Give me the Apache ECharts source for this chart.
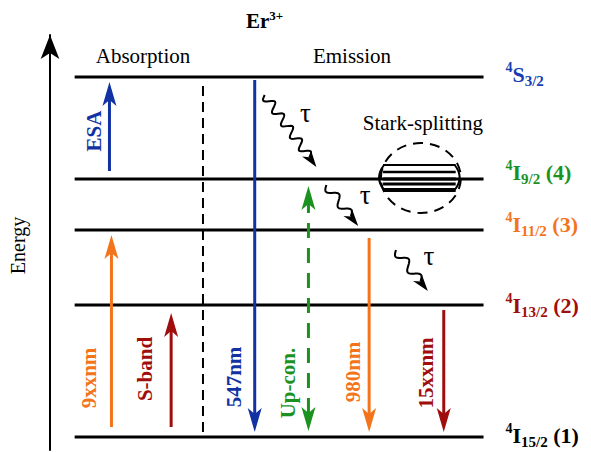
<!DOCTYPE html>
<html><head><meta charset="utf-8">
<script src="https://cdn.jsdelivr.net/npm/echarts@6/dist/echarts.min.js"></script>
<style>html,body{margin:0;padding:0;background:#fff}#c{width:591px;height:452px}</style>
</head><body><div id="c"></div>
<script>
// ---------------- data (energies in arbitrary units) ----------------
const levelTerms   = ['I', 'I', 'I', 'I', 'S'];
const levelJ       = ['15/2', '13/2', '11/2', '9/2', '3/2'];
const levelIndex   = ['(1)', '(2)', '(3)', '(4)', ''];
const levelEnergy  = [15, 147, 222, 273, 375];

const transitionNames = ['ESA', '9xxnm', 'S-band', '547nm', 'Up-con.', '980nm', '15xxnm'];
const transitionStart = [281, 25, 25, 372, 21, 214, 142];
const transitionEnd   = [370, 217, 139, 20, 266, 20, 20];

const relaxStart = [357, 267, 202];
const relaxEnd   = [285, 226, 161];

const starkOffsets = [14, 7, 0, -5, -11];

// ---------------- layout & style ----------------
const F = '"Liberation Serif","Times New Roman",serif';
const BLUE = '#1232a4', ORANGE = '#f3741a', RED = '#a00d0d', GREEN = '#1b921f', BLACK = '#000';
const L = {
  levelX: [72, 483],
  labelX: 505,
  levelLabelDE: [2, 0, 6, 7, 3],
  levelColor: [BLACK, RED, ORANGE, GREEN, '#1a3cb0'],
  transX: [107, 109, 169, 253, 307, 368, 443],
  transColor: [BLUE, ORANGE, RED, BLUE, GREEN, ORANGE, RED],
  transDashed: [false, false, false, false, true, false, false],
  transLabelDx: [-15, -22, -26, -21, -20, -16, -18],
  transLabelE: [321, 74, 83, 75, 69, 80, 79],
  relaxX: [[263, 315], [325, 357], [395, 427]],
  tauPos: [[304, 339], [364, 257], [428, 196]],
  divider: { x: 201, e0: 366, e1: 15 },
  stark: { cx: 420, rx: 40, ry: 35, x0: 382, x1: 455, widths: [2, 2.5, 3, 3, 4] }
};

function headPts(tip, ux, uy, len, wid, notch) {
  const bx = tip[0] - ux * len, by = tip[1] - uy * len;
  const px = -uy, py = ux;
  return [
    [tip[0], tip[1]],
    [bx + px * wid / 2, by + py * wid / 2],
    [tip[0] - ux * (len - notch), tip[1] - uy * (len - notch)],
    [bx - px * wid / 2, by - py * wid / 2]
  ];
}

function richFor(col) {
  return {
    sup: { fontSize: 14, fontWeight: 'bold', fontFamily: F, fill: col, lineHeight: 14, verticalAlign: 'top' },
    m:   { fontSize: 22, fontWeight: 'bold', fontFamily: F, fill: col, lineHeight: 28 },
    sub: { fontSize: 15, fontWeight: 'bold', fontFamily: F, fill: col, lineHeight: 15, verticalAlign: 'bottom' }
  };
}

const chart = echarts.init(document.getElementById('c'), null, { renderer: 'svg', width: 591, height: 452 });

const option = {
  animation: false,
  backgroundColor: '#fff',
  title: {
    text: '{b|Er}{s|3+}', left: 241, top: 4,
    textStyle: { rich: {
      b: { fontSize: 21, fontWeight: 'bold', fontFamily: F, color: '#000', lineHeight: 24 },
      s: { fontSize: 13, fontWeight: 'bold', fontFamily: F, color: '#000', lineHeight: 12, verticalAlign: 'top' }
    } }
  },
  grid: { left: 0, right: 0, top: 35, bottom: 2, containLabel: false },
  xAxis: { type: 'value', min: 0, max: 591, show: false },
  yAxis: {
    type: 'value', min: 2, max: 417, position: 'left', offset: -47,
    name: 'Energy', nameLocation: 'middle', nameGap: 22, nameRotate: 90,
    nameTextStyle: { fontFamily: F, fontSize: 20, color: '#000', padding: [0, 6, 0, 0] },
    axisLine: { show: true, symbol: ['none', 'arrow'], symbolSize: [14, 24], lineStyle: { color: '#000', width: 2 } },
    axisTick: { show: false }, axisLabel: { show: false }, splitLine: { show: false }
  },
  graphic: [
    { type: 'text', x: 143, y: 56, style: { text: 'Absorption', fontFamily: F, fontSize: 21, fill: '#000', align: 'center', verticalAlign: 'middle' } },
    { type: 'text', x: 352, y: 56, style: { text: 'Emission', fontFamily: F, fontSize: 21, fill: '#000', align: 'center', verticalAlign: 'middle' } }
  ],
  series: [
    { // energy levels
      type: 'custom', name: 'levels', z: 2,
      data: levelEnergy.map((e, i) => [i, e]),
      encode: { x: 0, y: 1 },
      renderItem: (params, api) => {
        const i = params.dataIndex, e = api.value(1);
        const a = api.coord([L.levelX[0], e]), b = api.coord([L.levelX[1], e]);
        const lp = api.coord([L.labelX, e + L.levelLabelDE[i]]);
        let txt = '{sup|4}{m|' + levelTerms[i] + '}{sub|' + levelJ[i] + '}';
        if (levelIndex[i]) txt += '{m| ' + levelIndex[i] + '}';
        return { type: 'group', children: [
          { type: 'line', shape: { x1: a[0], y1: a[1], x2: b[0], y2: b[1] }, style: { stroke: '#000', lineWidth: 3 } },
          { type: 'text', x: lp[0], y: lp[1], style: { text: txt, align: 'left', verticalAlign: 'middle', rich: richFor(L.levelColor[i]) } }
        ] };
      }
    },
    { // absorption / emission divider
      type: 'custom', name: 'divider', z: 2,
      data: [[L.divider.x, L.divider.e0]],
      renderItem: (params, api) => {
        const a = api.coord([L.divider.x, L.divider.e0]), b = api.coord([L.divider.x, L.divider.e1]);
        return { type: 'line', shape: { x1: a[0], y1: a[1], x2: b[0], y2: b[1] }, style: { stroke: '#000', lineWidth: 2, lineDash: [10, 6] } };
      }
    },
    { // Stark splitting of 4I9/2
      type: 'custom', name: 'stark', z: 3,
      data: [[L.stark.cx, levelEnergy[3]]],
      renderItem: (params, api) => {
        const S = L.stark, e = levelEnergy[3];
        const c = api.coord([S.cx, e + 1]);
        const ch = [];
        ch.push({ type: 'ellipse', shape: { cx: c[0], cy: c[1], rx: S.rx, ry: S.ry }, style: { fill: 'none', stroke: '#000', lineWidth: 2, lineDash: [10, 7] } });
        starkOffsets.forEach((o, k) => {
          const a = api.coord([S.x0, e + o]), b = api.coord([S.x1, e + o]);
          ch.push({ type: 'line', shape: { x1: a[0], y1: a[1], x2: b[0], y2: b[1] }, style: { stroke: '#000', lineWidth: S.widths[k] } });
        });
        const t = api.coord([S.x0, e + starkOffsets[0]]), bt = api.coord([S.x0, e + starkOffsets[4]]);
        const t2 = api.coord([S.x1, e + starkOffsets[0]]), bt2 = api.coord([S.x1, e + starkOffsets[4]]);
        ch.push({ type: 'bezierCurve', shape: { x1: t[0] + 1, y1: t[1], x2: bt[0] + 1, y2: bt[1], cpx1: t[0] - 9, cpy1: (t[1] + bt[1]) / 2 }, style: { stroke: '#000', lineWidth: 2, fill: 'none' } });
        ch.push({ type: 'bezierCurve', shape: { x1: t2[0] - 1, y1: t2[1], x2: bt2[0] - 1, y2: bt2[1], cpx1: t2[0] + 9, cpy1: (t2[1] + bt2[1]) / 2 }, style: { stroke: '#000', lineWidth: 2, fill: 'none' } });
        const tp = api.coord([422, e + 56]);
        ch.push({ type: 'text', x: tp[0], y: tp[1], style: { text: 'Stark-splitting', fontFamily: F, fontSize: 21, fill: '#000', align: 'center', verticalAlign: 'middle' } });
        return { type: 'group', children: ch };
      }
    },
    { // radiative / absorption transitions
      type: 'custom', name: 'transitions', z: 4,
      data: transitionNames.map((n, i) => [i, transitionStart[i], transitionEnd[i]]),
      encode: { x: 0, y: [1, 2] },
      renderItem: (params, api) => {
        const i = params.dataIndex;
        const x = L.transX[i], col = L.transColor[i];
        const p0 = api.coord([x, api.value(1)]), p1 = api.coord([x, api.value(2)]);
        const dx = p1[0] - p0[0], dy = p1[1] - p0[1], len = Math.hypot(dx, dy);
        const ux = dx / len, uy = dy / len;
        const HL = 24, HW = 14, HN = 6;
        const ch = [];
        const dashed = L.transDashed[i];
        const s = dashed ? [p0[0] + ux * (HL - HN), p0[1] + uy * (HL - HN)] : p0;
        const t = [p1[0] - ux * (HL - HN), p1[1] - uy * (HL - HN)];
        ch.push({ type: 'line', shape: { x1: s[0], y1: s[1], x2: t[0], y2: t[1] }, style: { stroke: col, lineWidth: 3, lineDash: dashed ? [15, 10] : null } });
        ch.push({ type: 'polygon', shape: { points: headPts(p1, ux, uy, HL, HW, HN) }, style: { fill: col } });
        if (dashed) ch.push({ type: 'polygon', shape: { points: headPts(p0, -ux, -uy, HL, HW, HN) }, style: { fill: col } });
        const lp = api.coord([x, L.transLabelE[i]]);
        ch.push({ type: 'text', x: lp[0] + L.transLabelDx[i], y: lp[1], rotation: Math.PI / 2,
          style: { text: transitionNames[i], fontFamily: F, fontSize: 21, fontWeight: 'bold', fill: col, align: 'center', verticalAlign: 'middle' } });
        return { type: 'group', children: ch };
      }
    },
    { // non-radiative relaxation (wavy arrows)
      type: 'custom', name: 'relaxation', z: 4,
      data: relaxStart.map((e, i) => [i, e, relaxEnd[i]]),
      encode: { x: 0, y: [1, 2] },
      renderItem: (params, api) => {
        const i = params.dataIndex;
        const p0 = api.coord([L.relaxX[i][0], api.value(1)]), p1 = api.coord([L.relaxX[i][1], api.value(2)]);
        const dx = p1[0] - p0[0], dy = p1[1] - p0[1], len = Math.hypot(dx, dy);
        const ux = dx / len, uy = dy / len, px = -uy, py = ux;
        const HL = 17, HW = 11, HN = 5;
        const wl = len - HL + HN;
        const n = Math.max(2, Math.round(wl / 16));
        const lam = wl / n, amp = 4.5;
        const pts = [];
        const N = 80;
        for (let k = 0; k <= N; k++) {
          const sd = wl * k / N;
          const a = amp * Math.sin(2 * Math.PI * sd / lam);
          pts.push([p0[0] + ux * sd + px * a, p0[1] + uy * sd + py * a]);
        }
        const tp = api.coord(L.tauPos[i]);
        return { type: 'group', children: [
          { type: 'polyline', shape: { points: pts }, style: { stroke: '#000', lineWidth: 2, fill: 'none' } },
          { type: 'polygon', shape: { points: headPts(p1, ux, uy, HL, HW, HN) }, style: { fill: '#000' } },
          { type: 'text', x: tp[0], y: tp[1], style: { text: 'τ', fontFamily: F, fontSize: 27, fill: '#000', align: 'center', verticalAlign: 'middle' } }
        ] };
      }
    }
  ]
};
chart.setOption(option);
</script>
</body></html>
